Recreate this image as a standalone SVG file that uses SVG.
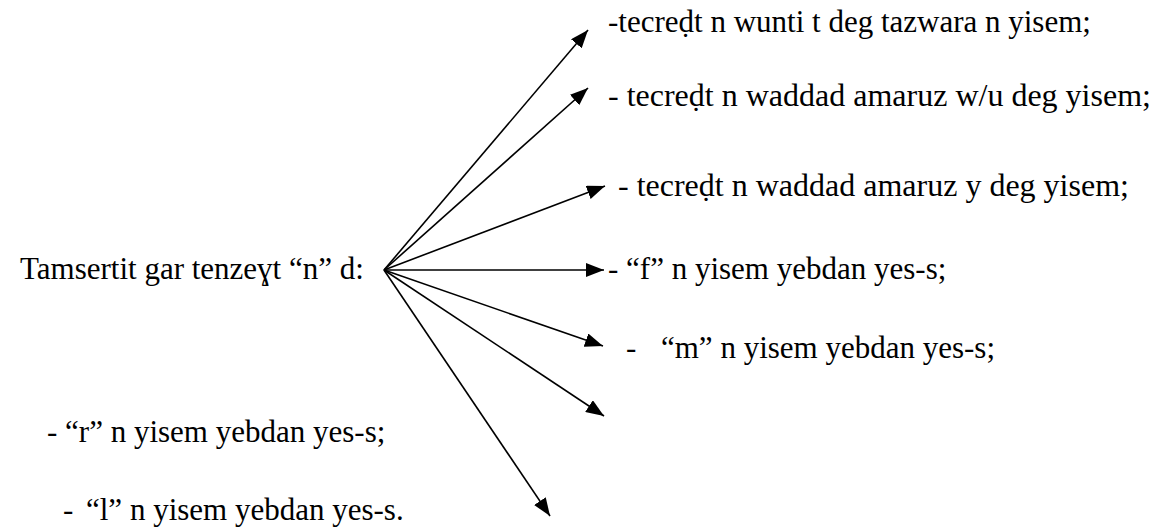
<svg xmlns="http://www.w3.org/2000/svg" width="1155" height="531" viewBox="0 0 1155 531">
<style>
  text { font-family: "Liberation Serif", "Times New Roman", serif; font-size: 31px; fill: #000; }
  .big { font-size: 32px; }
  .c { stroke: #000; stroke-width: 1.6; fill: none; }
</style>
<defs>
  <marker id="ah" viewBox="0 0 18 14" refX="18" refY="7" markerWidth="18" markerHeight="14" markerUnits="userSpaceOnUse" orient="auto">
    <path d="M0,0 L18,7 L0,14 Z" fill="#000"/>
  </marker>
</defs>
<rect width="1155" height="531" fill="#fff"/>
<g id="connectors">
  <line class="c" x1="384" y1="270" x2="588" y2="30" marker-end="url(#ah)"/>
  <line class="c" x1="384" y1="270" x2="588" y2="88" marker-end="url(#ah)"/>
  <line class="c" x1="384" y1="270" x2="605" y2="186" marker-end="url(#ah)"/>
  <line class="c" x1="384" y1="270" x2="604" y2="270" marker-end="url(#ah)"/>
  <line class="c" x1="384" y1="270" x2="603" y2="346" marker-end="url(#ah)"/>
  <line class="c" x1="384" y1="270" x2="604" y2="416" marker-end="url(#ah)"/>
  <line class="c" x1="384" y1="270" x2="550" y2="516" marker-end="url(#ah)"/>
</g>
<g id="source"><text x="20" y="279">Tamsertit gar tenzeɣt “n” d:</text></g>
<g id="t1"><text x="608" y="32">-tecreḍt n wunti t deg tazwara n yisem;</text></g>
<g id="t2"><text class="big" x="608" y="106">- tecreḍt n waddad amaruz w/u deg yisem;</text></g>
<g id="t3"><text class="big" x="618" y="196">- tecreḍt n waddad amaruz y deg yisem;</text></g>
<g id="t4"><text x="608" y="279">- “f” n yisem yebdan yes-s;</text></g>
<g id="t5"><text x="626" y="358">-</text><text x="661" y="358">“m” n yisem yebdan yes-s;</text></g>
<g id="t6"><text x="47" y="442">- “r” n yisem yebdan yes-s;</text></g>
<g id="t7"><text x="63" y="520">-</text><text x="86" y="520">“l” n yisem yebdan yes-s.</text></g>
</svg>
